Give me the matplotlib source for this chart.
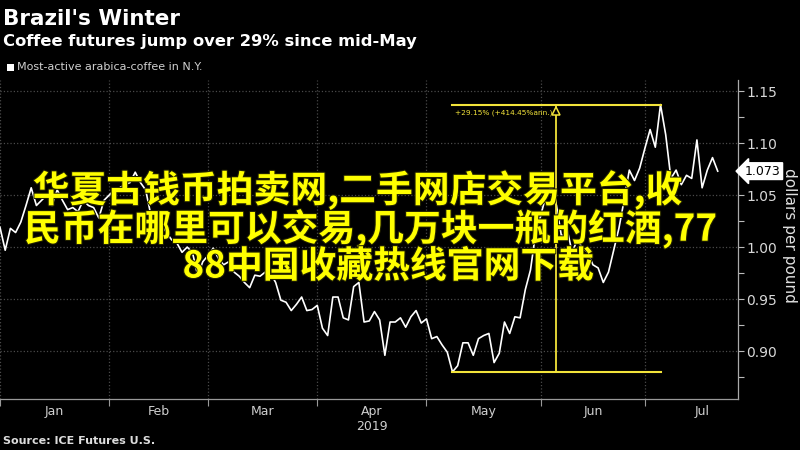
import numpy as np
import matplotlib
matplotlib.use("Agg")
import matplotlib.pyplot as plt
import matplotlib.patheffects as pe
from matplotlib.ticker import FixedLocator, MultipleLocator, NullFormatter

# ---- data (daily closes, trading-day index) ----
prices = [
    1.019, 0.997, 1.018, 1.014, 1.024, 1.040, 1.057, 1.040, 1.045, 1.050,
    1.040, 1.055, 1.045, 1.036, 1.038, 1.034, 1.045, 1.040, 1.038, 1.028,
    1.045, 1.050, 1.055, 1.057, 1.060, 1.062, 1.072, 1.062, 1.055, 1.031,
    1.028, 1.023, 1.014, 1.007, 1.004, 0.995, 1.000, 0.995, 0.973, 0.986,
    0.992, 0.999, 0.989, 0.983, 0.986, 0.976, 0.972, 0.966, 0.961, 0.973,
    0.972, 0.976, 0.975, 0.966, 0.949, 0.947, 0.939, 0.945, 0.952, 0.939,
    0.940, 0.944, 0.922, 0.915, 0.952, 0.952, 0.932, 0.930, 0.962, 0.966,
    0.928, 0.929, 0.938, 0.930, 0.896, 0.928, 0.928, 0.932, 0.923, 0.933,
    0.939, 0.927, 0.931, 0.912, 0.914, 0.906, 0.899, 0.880, 0.886, 0.908,
    0.908, 0.896, 0.912, 0.915, 0.917, 0.889, 0.898, 0.928, 0.917, 0.933,
    0.932, 0.959, 0.978, 1.014, 1.031, 1.050, 1.058, 1.040, 1.009, 1.018,
    0.995, 1.007, 0.999, 0.995, 0.983, 0.980, 0.966, 0.976, 0.997, 1.018,
    1.045, 1.074, 1.064, 1.076, 1.095, 1.113, 1.096, 1.137, 1.108, 1.066,
    1.074, 1.060, 1.069, 1.066, 1.103, 1.057, 1.074, 1.086, 1.073,
]
month_labels = ["Jan", "Feb", "Mar", "Apr", "May", "Jun", "Jul"]
month_starts = [0, 21, 40, 61, 82, 104, 124]
month_mids = [10.5, 30.5, 50.5, 71.5, 93, 114, 135]
year_label = "2019"
last_value = 1.073
low_idx, high_idx, mid_idx = 87, 127, 107
low_val, high_val = 0.880, 1.137
change_text = "+29.15% (+414.45%ann.)"

title = "Brazil's Winter"
subtitle = "Coffee futures jump over 29% since mid-May"
legend_text = "Most-active arabica-coffee in N.Y."
source = "Source: ICE Futures U.S."
ylabel = "dollars per pound"
overlay = ["华夏古钱币拍卖网,二手网店交易平台,收",
           "民币在哪里可以交易,几万块一瓶的红酒,77",
           "88中国收藏热线官网下载"]

# ---- figure ----
plt.rcParams['font.family'] = ['DejaVu Sans']
W, H = 800, 450
fig = plt.figure(figsize=(8, 4.5), dpi=100, facecolor='black')
ax = fig.add_axes([0, 1 - 399 / H, 738 / W, (399 - 80) / H])
ax.set_facecolor('black')

x = np.arange(len(prices))
ax.plot(x, prices, color='white', lw=1.2, zorder=3)

ax.set_xlim(0, 141.9)
ax.set_ylim(0.854, 1.1606)

# grid / ticks
gridc = '#4a4a4a'
ax.yaxis.set_major_locator(MultipleLocator(0.05))
ax.yaxis.set_minor_locator(MultipleLocator(0.025))
ax.yaxis.tick_right()
ax.yaxis.set_major_formatter(matplotlib.ticker.FormatStrFormatter('%.2f'))
ax.tick_params(axis='y', which='both', colors='#bbbbbb', labelcolor='#d8d8d8',
               labelsize=10, length=4, width=0.8, direction='out', pad=2)
ax.grid(axis='y', which='major', color=gridc, ls=':', lw=0.9)

ax.xaxis.set_major_locator(FixedLocator(month_starts))
ax.xaxis.set_major_formatter(NullFormatter())
ax.xaxis.set_minor_locator(FixedLocator(month_mids))
ax.xaxis.set_minor_formatter(matplotlib.ticker.FixedFormatter(month_labels))
ax.tick_params(axis='x', which='major', colors='#999999', length=5, width=0.8)
ax.tick_params(axis='x', which='minor', length=0, labelsize=9,
               labelcolor='#cfcfcf', pad=4)
ax.grid(axis='x', which='major', color=gridc, ls=':', lw=0.9)

for s in ['top', 'left']:
    ax.spines[s].set_visible(False)
ax.spines['right'].set_color('#aaaaaa')
ax.spines['bottom'].set_color('#999999')
ax.spines['right'].set_linewidth(0.9)
ax.spines['bottom'].set_linewidth(0.9)

ax.text(71.5, -0.085, year_label, transform=ax.get_xaxis_transform(),
        ha='center', va='center', color='#cfcfcf', fontsize=9)

# change annotation
yel = '#f2e33a'
ax.plot([low_idx, high_idx], [low_val, low_val], color=yel, lw=1.5, zorder=4)
ax.plot([low_idx, high_idx], [high_val, high_val], color=yel, lw=1.5, zorder=4)
ax.plot([mid_idx, mid_idx], [low_val, high_val], color=yel, lw=1.3, zorder=4)
ax.plot([mid_idx], [high_val - 0.006], marker='^', ms=6, mfc='black',
        mec=yel, mew=1.1, zorder=5)
ax.text(low_idx + 0.5, high_val - 0.0075, change_text, color=yel,
        fontsize=5.3, ha='left', va='center', zorder=5)

# last value tag
ax.annotate(f"{last_value:.3f}", xy=(1.0, last_value),
            xycoords=('axes fraction', 'data'),
            xytext=(5, 0), textcoords='offset points',
            ha='left', va='center', fontsize=9, color='black',
            bbox=dict(boxstyle='larrow,pad=0.15', fc='white', ec='white'),
            annotation_clip=False, zorder=6)

fig.text(790 / W, 1 - 235 / H, ylabel, rotation=270, ha='center',
         va='center', color='#e0e0e0', fontsize=11)

# titles
fig.text(3 / W, 1 - 25 / H, title, color='white', fontsize=15.5,
         fontweight='bold', ha='left', va='baseline')
fig.text(3 / W, 1 - 46 / H, subtitle, color='white', fontsize=11.8,
         fontweight='bold', ha='left', va='baseline')
fig.patches.append(matplotlib.patches.Rectangle((7 / W, 1 - 71 / H), 7 / W, 7 / H,
                   transform=fig.transFigure, fc='white', ec='none'))
fig.text(17 / W, 1 - 67.5 / H, legend_text, color='#d0d0d0', fontsize=8,
         ha='left', va='center')
fig.text(3 / W, 1 - 441 / H, source, color='#dddddd', fontsize=8,
         fontweight='bold', ha='left', va='center')

# overlay text
for line, xc, yc in zip(overlay, [357, 370, 388], [190, 229, 267]):
    fig.text(xc / W, 1 - yc / H, line, color='#ffff00', fontsize=26.5,
             fontweight='bold', ha='center', va='center',
             family=['Noto Sans CJK SC', 'DejaVu Sans'], zorder=10,
             path_effects=[pe.withStroke(linewidth=1.5, foreground='#222200')])

fig.savefig('out.png', dpi=100, facecolor='black')
